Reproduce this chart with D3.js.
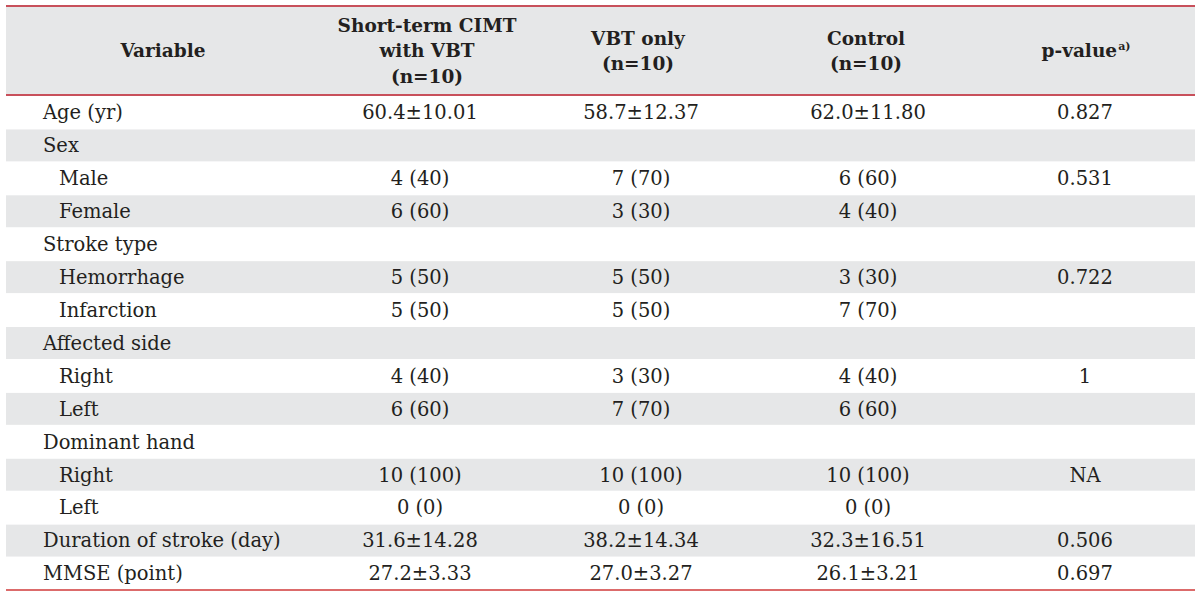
<!DOCTYPE html>
<html><head><meta charset="utf-8">
<script src="https://cdn.jsdelivr.net/npm/d3@7"></script>
<style>
html,body{margin:0;padding:0;background:#fff;}
svg{display:block;}
text{font-family:"DejaVu Serif",serif;fill:#231f20;}
</style></head>
<body>
<svg id="chart" width="1200" height="598"></svg>
<script>
// ---- data ----
const headers = [["Variable"], ["Short-term CIMT", "with VBT", "(n=10)"], ["VBT only", "(n=10)"], ["Control", "(n=10)"], ["p-value"]];
const variables = ["Age (yr)", "Sex", "Male", "Female", "Stroke type", "Hemorrhage", "Infarction", "Affected side", "Right", "Left", "Dominant hand", "Right", "Left", "Duration of stroke (day)", "MMSE (point)"];
const indented = [false, false, true, true, false, true, true, false, true, true, false, true, true, false, false];
const cimtVbt = ["60.4±10.01", "", "4 (40)", "6 (60)", "", "5 (50)", "5 (50)", "", "4 (40)", "6 (60)", "", "10 (100)", "0 (0)", "31.6±14.28", "27.2±3.33"];
const vbtOnly = ["58.7±12.37", "", "7 (70)", "3 (30)", "", "5 (50)", "5 (50)", "", "3 (30)", "7 (70)", "", "10 (100)", "0 (0)", "38.2±14.34", "27.0±3.27"];
const control = ["62.0±11.80", "", "6 (60)", "4 (40)", "", "3 (30)", "7 (70)", "", "4 (40)", "6 (60)", "", "10 (100)", "0 (0)", "32.3±16.51", "26.1±3.21"];
const pValues = ["0.827", "", "0.531", "", "", "0.722", "", "", "1", "", "", "NA", "", "0.506", "0.697"];

// ---- layout ----
const svg = d3.select("#chart");
const xLeft = 6, xRight = 1195, yTop = 6, headBottom = 95, yBottom = 590;
const lineColor = "#c8505b", stripe = "#e6e7e8";
const fs = 19.5, fsHead = 18.5;

const y = d3.scaleBand().domain(d3.range(variables.length)).range([headBottom + 1, yBottom]).paddingInner(0).paddingOuter(0);
const colX = d3.scaleOrdinal().domain([1, 2, 3, 4]).range([420, 641, 868, 1085]);

// header background
svg.append("rect").attr("x", xLeft).attr("y", yTop).attr("width", xRight - xLeft).attr("height", headBottom - yTop).attr("fill", stripe);

// striped rows
const rows = svg.append("g").selectAll("g").data(variables).join("g");
rows.append("rect")
  .attr("x", xLeft).attr("y", (d, i) => y(i) + 0.5)
  .attr("width", xRight - xLeft).attr("height", y.bandwidth() - 1)
  .attr("fill", (d, i) => i % 2 === 1 ? stripe : "#fff");

rows.append("text")
  .attr("x", (d, i) => indented[i] ? 59 : 43)
  .attr("y", (d, i) => y(i) + y.bandwidth() / 2)
  .attr("dy", "0.35em").attr("font-size", fs)
  .text(d => d);

const cols = [cimtVbt, vbtOnly, control, pValues];
cols.forEach((arr, ci) => {
  svg.append("g").selectAll("text").data(arr).join("text")
    .attr("x", colX(ci + 1))
    .attr("y", (d, i) => y(i) + y.bandwidth() / 2)
    .attr("dy", "0.35em").attr("text-anchor", "middle").attr("font-size", fs)
    .text(d => d);
});

// header text
const headX = [163, 427, 638, 866, 1086];
const lineH = 25.5, headMid = 51;
headers.forEach((lines, hi) => {
  const t = svg.append("text")
    .attr("text-anchor", "middle").attr("font-size", fsHead).attr("font-weight", "bold");
  lines.forEach((ln, li) => {
    const yy = headMid + (li - (lines.length - 1) / 2) * lineH;
    t.append("tspan").attr("x", headX[hi]).attr("y", yy).attr("dy", "0.35em").text(ln);
  });
  if (hi === 4) {
    t.append("tspan").attr("font-size", 11).attr("dy", -7).attr("dx", 1).text("a)");
  }
});

// rules
svg.append("line").attr("x1", xLeft).attr("x2", xRight).attr("y1", yTop).attr("y2", yTop).attr("stroke", lineColor).attr("stroke-width", 2);
svg.append("line").attr("x1", xLeft).attr("x2", xRight).attr("y1", headBottom).attr("y2", headBottom).attr("stroke", lineColor).attr("stroke-width", 2);
svg.append("line").attr("x1", xLeft).attr("x2", xRight).attr("y1", yBottom).attr("y2", yBottom).attr("stroke", "#d03a3a").attr("stroke-width", 1.5);
</script>
</body></html>
